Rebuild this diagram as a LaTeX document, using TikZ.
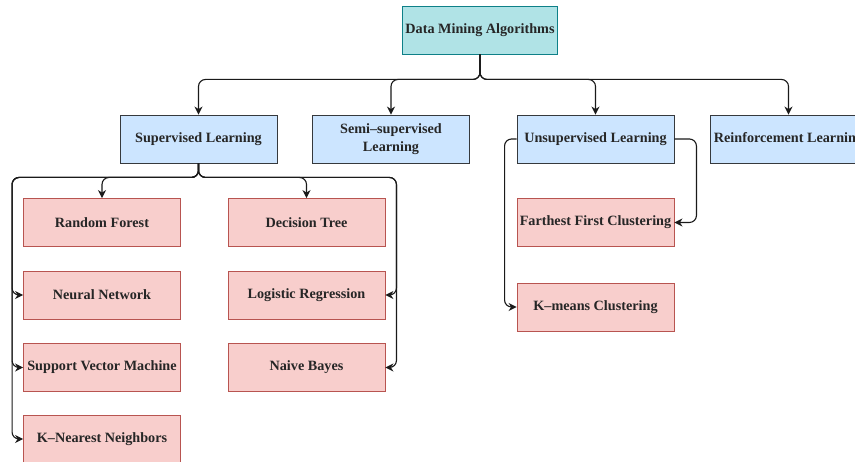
\documentclass[tikz,border=0pt]{standalone}
\usepackage{fontspec}
\setmainfont{Liberation Serif}
\usetikzlibrary{arrows.meta}
\definecolor{tealfill}{HTML}{B0E3E6}
\definecolor{tealdraw}{HTML}{0E8088}
\definecolor{bluefill}{HTML}{CCE5FF}
\definecolor{bluedraw}{HTML}{36393D}
\definecolor{redfill}{HTML}{F8CECC}
\definecolor{reddraw}{HTML}{B85450}
\definecolor{linec}{HTML}{1A1A1A}
\tikzset{
  box/.style={draw, line width=0.9pt, minimum width=157pt, minimum height=48pt, inner sep=1pt, align=center, font=\fontsize{14.2}{18}\selectfont\bfseries, text=black!85},
  topbox/.style={box, fill=tealfill, draw=tealdraw, minimum width=155pt},
  catbox/.style={box, fill=bluefill, draw=bluedraw},
  algbox/.style={box, fill=redfill, draw=reddraw},
  conn/.style={draw=linec, line width=1.1pt, rounded corners=7pt, -{Stealth[length=8pt,width=8pt]}},
}
\begin{document}
\begin{tikzpicture}[x=1pt,y=-1pt]
\clip (0,0) rectangle (855,462);
\fill[white] (0,0) rectangle (855,462);
\node[topbox] (top) at (480,30) {Data Mining Algorithms};
\node[catbox] (sup) at (198.5,139) {Supervised Learning};
\node[catbox] (semi) at (391,139) {Semi–supervised\\Learning};
\node[catbox] (uns) at (595.5,139) {Unsupervised Learning};
\node[catbox] (rein) at (788.5,139) {Reinforcement Learning};
\node[algbox] (rf) at (102,222.5) {Random Forest};
\node[algbox] (dt) at (306.5,222.5) {Decision Tree};
\node[algbox] (nn) at (102,295) {Neural Network};
\node[algbox] (lr) at (306.5,295) {Logistic Regression};
\node[algbox] (svm) at (102,367.5) {Support Vector Machine};
\node[algbox] (nb) at (306.5,367.5) {Naive Bayes};
\node[algbox] (knn) at (102,439) {K–Nearest Neighbors};
\node[algbox] (ff) at (595.5,222.5) {Farthest First Clustering};
\node[algbox] (km) at (595.5,307) {K–means Clustering};
% top level
\foreach \t in {sup,semi,uns,rein}
  \draw[conn] (top.south) -- ++(0,25) -| (\t.north);
% supervised
\draw[conn] (sup.south) -- ++(0,14) -| (rf.north);
\draw[conn] (sup.south) -- ++(0,14) -| (dt.north);
\foreach \t in {nn,svm,knn}
  \draw[conn] (sup.south) -- ++(0,14) -| ([xshift=-11pt]\t.west) -- (\t.west);
\foreach \t in {lr,nb}
  \draw[conn] (sup.south) -- ++(0,14) -| ([xshift=11pt]\t.east) -- (\t.east);
% unsupervised
\draw[conn] (uns.west) -- ++(-12,0) |- (km.west);
\draw[conn] (uns.east) -- ++(22,0) |- (ff.east);
\end{tikzpicture}
\end{document}
